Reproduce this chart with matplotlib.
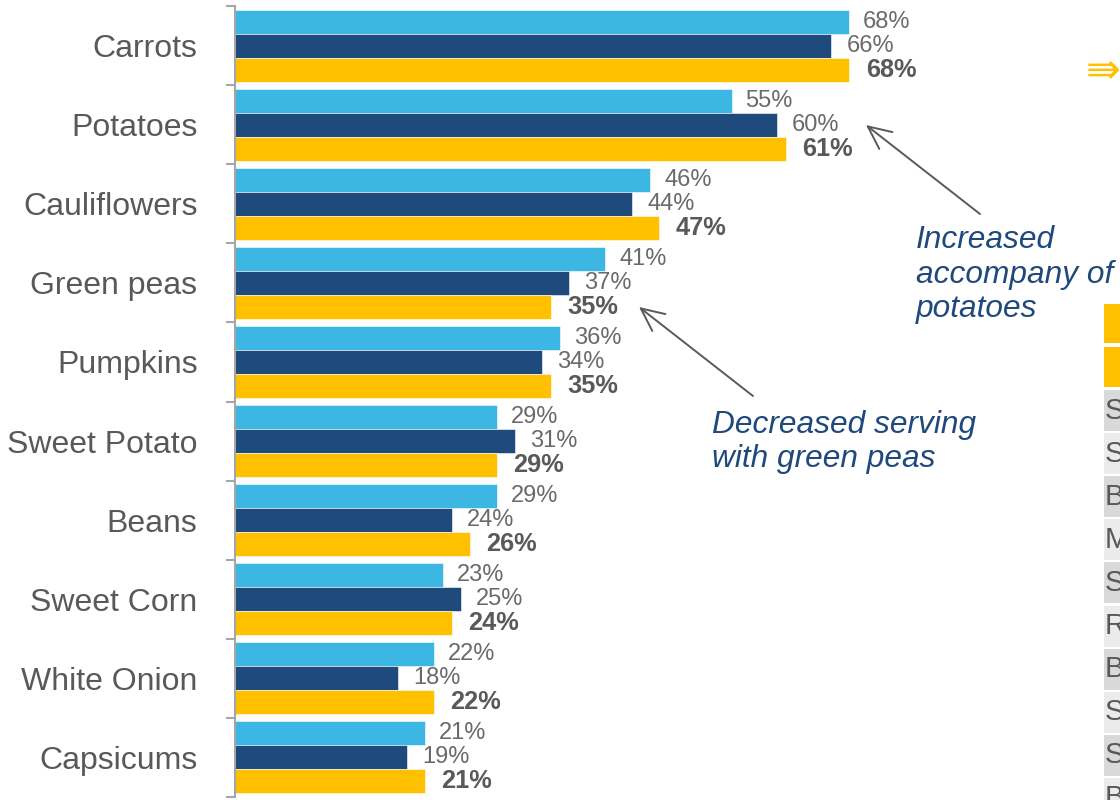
import matplotlib
matplotlib.use("Agg")
import matplotlib.pyplot as plt
from matplotlib.patches import Rectangle, FancyArrowPatch
import numpy as np

plt.rcParams['font.family'] = ['Liberation Sans', 'DejaVu Sans']

# Data
categories = ["Carrots", "Potatoes", "Cauliflowers", "Green peas", "Pumpkins",
              "Sweet Potato", "Beans", "Sweet Corn", "White Onion", "Capsicums"]
series_1 = [68, 55, 46, 41, 36, 29, 29, 23, 22, 21]
series_2 = [66, 60, 44, 37, 34, 31, 24, 25, 18, 19]
series_3 = [68, 61, 47, 35, 35, 29, 26, 24, 22, 21]
side_rows = ["S", "S", "B", "M", "S", "R", "B", "S", "S", "B"]

C_LIGHT = "#3CB7E4"
C_DARK = "#1F4A7C"
C_GOLD = "#FFC000"
C_TEXT = "#6A6A6A"
C_BOLD = "#595959"
C_NOTE = "#1F497D"

W, H = 1120, 800
fig = plt.figure(figsize=(W / 100, H / 100), dpi=100)


def fx(x):
    return x / W


def fy(y):
    return 1 - y / H


# Main bar axes
ax_left, ax_top, ax_bottom = 235, 6, 797
ax = fig.add_axes([fx(ax_left), fy(ax_bottom), fx(W - ax_left), (ax_bottom - ax_top) / H])
px_per_pct = 9.03
ax.set_xlim(0, (W - ax_left) / px_per_pct)
ax.set_ylim(len(categories) - 0.5, -0.5)

y = np.arange(len(categories))
bh = 0.3035
ax.barh(y - bh, series_1, height=bh, color=C_LIGHT, edgecolor="white", linewidth=0.4)
ax.barh(y, series_2, height=bh, color=C_DARK, edgecolor="white", linewidth=0.4)
ax.barh(y + bh, series_3, height=bh, color=C_GOLD, edgecolor="white", linewidth=0.4)

for i in range(len(categories)):
    ax.annotate(f"{series_1[i]}%", (series_1[i], y[i] - bh), xytext=(10, 0),
                textcoords="offset points", va="center", ha="left",
                fontsize=17, color=C_TEXT)
    ax.annotate(f"{series_2[i]}%", (series_2[i], y[i]), xytext=(11, 0),
                textcoords="offset points", va="center", ha="left",
                fontsize=17, color=C_TEXT)
    ax.annotate(f"{series_3[i]}%", (series_3[i], y[i] + bh), xytext=(12, 0),
                textcoords="offset points", va="center", ha="left",
                fontsize=18.3, color=C_BOLD, fontweight="bold")

for s in ["top", "right", "bottom"]:
    ax.spines[s].set_visible(False)
ax.spines["left"].set_color("#A6A6A6")
ax.spines["left"].set_linewidth(1.5)
ax.set_xticks([])
ax.set_yticks(y)
ax.set_yticklabels(categories, fontsize=23, color="#595959")
ax.tick_params(axis="y", which="major", length=0, pad=27)
ax.set_yticks(np.arange(len(categories) + 1) - 0.5, minor=True)
ax.tick_params(axis="y", which="minor", length=6.5, width=1.5, color="#A6A6A6",
               direction="out")

# Call-out notes with arrows
for txt, (xp, yp) in [("Increased", (916, 248)), ("accompany of", (916, 283)),
                      ("potatoes", (916, 317))]:
    fig.text(fx(xp), fy(yp), txt, fontsize=22.8, style="italic", color=C_NOTE,
             ha="left", va="baseline")
for txt, (xp, yp) in [("Decreased serving", (712, 433)), ("with green peas", (712, 467))]:
    fig.text(fx(xp), fy(yp), txt, fontsize=22.8, style="italic", color=C_NOTE,
             ha="left", va="baseline")

arrow_kw = dict(arrowstyle="->,head_length=0.75,head_width=0.35", color="#595959",
                lw=1.4, shrinkA=0, shrinkB=0, mutation_scale=22)
fig.add_artist(FancyArrowPatch(
    (fx(980), fy(214)), (fx(866), fy(125)), transform=fig.transFigure, **arrow_kw))
fig.add_artist(FancyArrowPatch(
    (fx(753), fy(396)), (fx(639), fy(307)), transform=fig.transFigure, **arrow_kw))

# Side panel (partially beyond the right edge)
fig.text(fx(1086), fy(71), "\u21db", fontsize=30, color=C_GOLD, ha="left",
         va="center", family="DejaVu Sans")

for top, bot in [(304, 343), (347, 387)]:
    fig.add_artist(Rectangle((fx(1104), fy(bot)), fx(40), (bot - top) / H,
                             transform=fig.transFigure, facecolor=C_GOLD,
                             edgecolor="none"))
row_top0, row_pitch, row_h = 390, 43.1, 41
for k, letter in enumerate(side_rows):
    top = row_top0 + k * row_pitch
    shade = "#D9D9D9" if k % 2 == 0 else "#EBEBEB"
    fig.add_artist(Rectangle((fx(1104), fy(top + row_h)), fx(40), row_h / H,
                             transform=fig.transFigure, facecolor=shade,
                             edgecolor="none"))
    fig.text(fx(1105), fy(top + row_h / 2), letter, fontsize=21, color=C_BOLD,
             ha="left", va="center")

fig.savefig("out.png", dpi=100)
